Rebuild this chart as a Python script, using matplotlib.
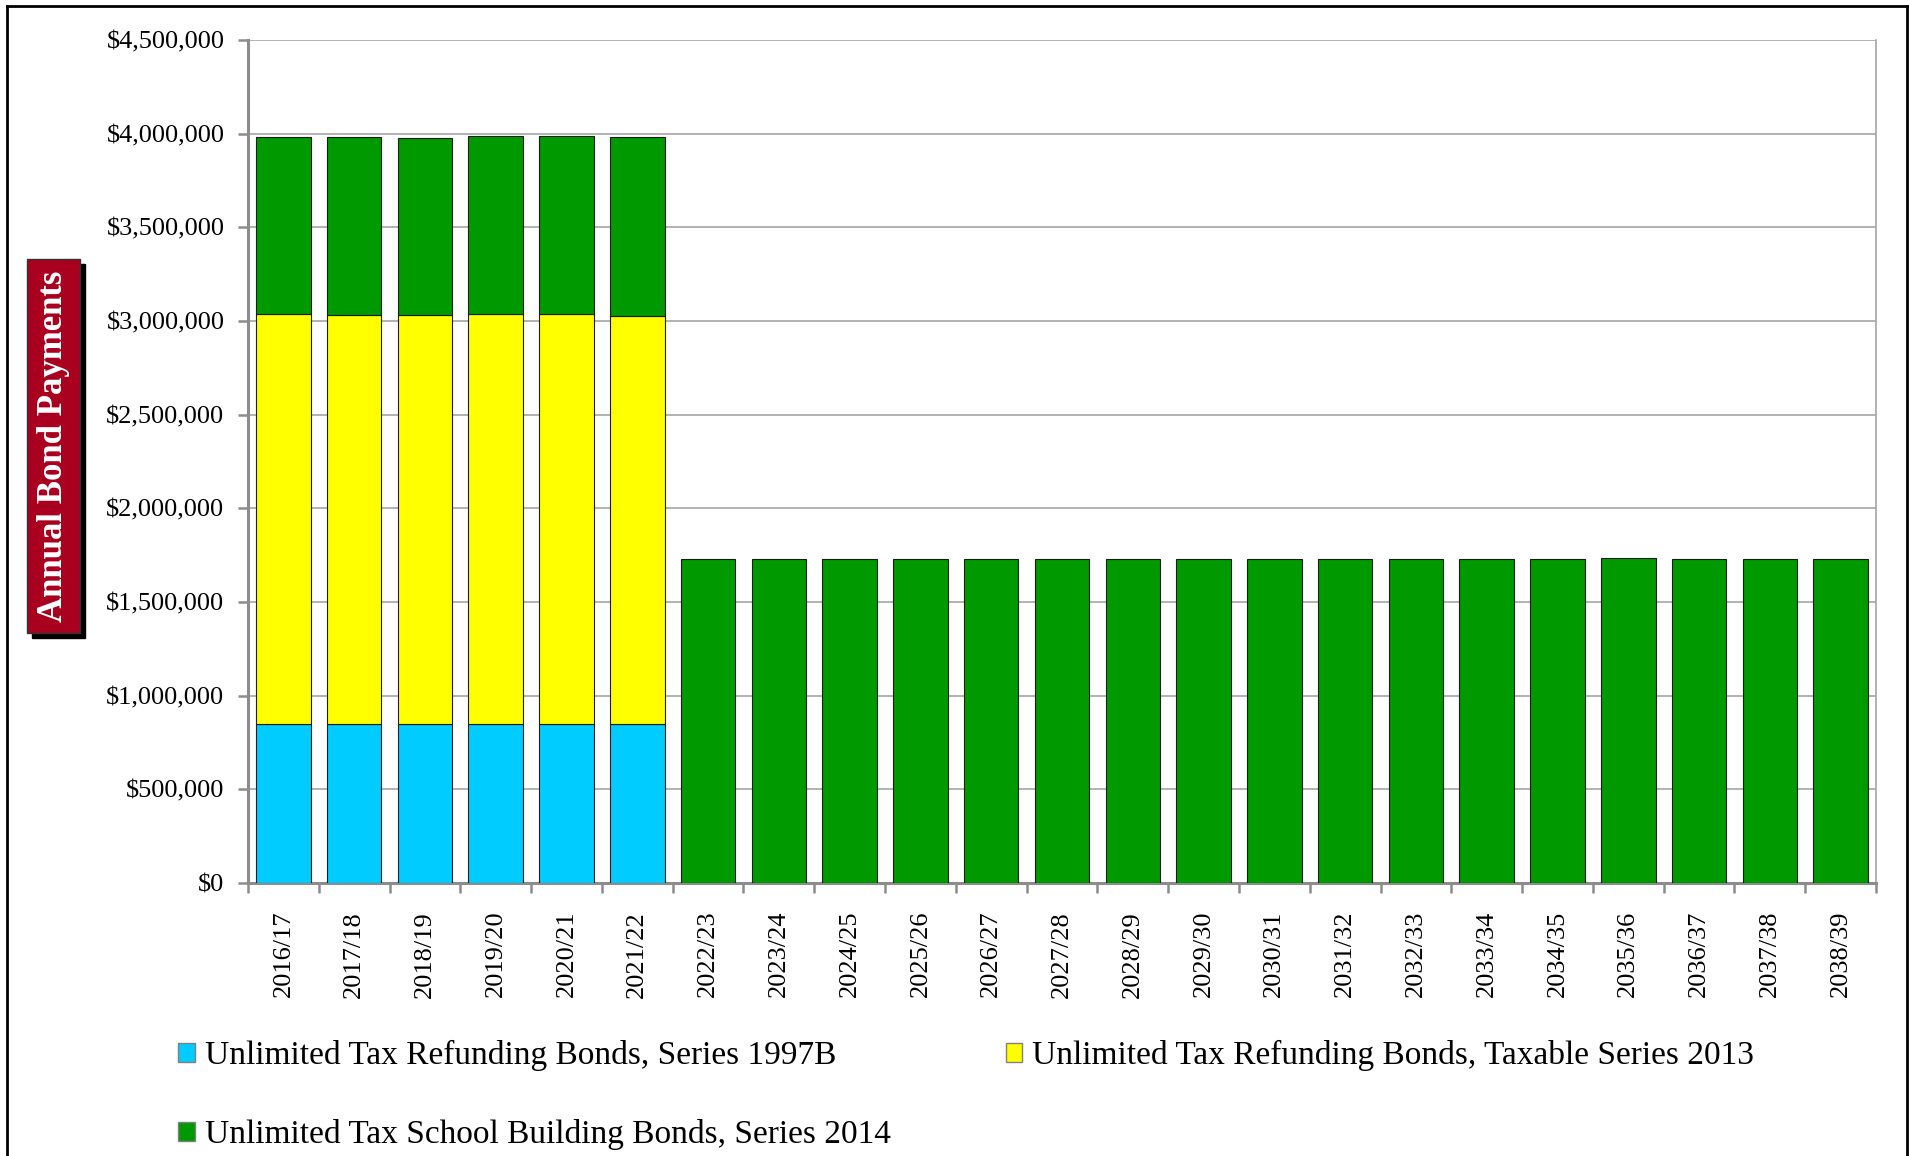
import matplotlib
matplotlib.use("Agg")
import matplotlib.pyplot as plt
from matplotlib.patches import Rectangle, Circle
from matplotlib.lines import Line2D
from matplotlib.ticker import FuncFormatter, MultipleLocator
import numpy as np

# annual payments per bond issue, fiscal years
years = ['2016/17', '2017/18', '2018/19', '2019/20', '2020/21', '2021/22',
         '2022/23', '2023/24', '2024/25', '2025/26', '2026/27', '2027/28',
         '2028/29', '2029/30', '2030/31', '2031/32', '2032/33', '2033/34',
         '2034/35', '2035/36', '2036/37', '2037/38', '2038/39']

series_1997b = [850000, 850000, 850000, 850000, 850000, 850000,
                0, 0, 0, 0, 0, 0, 0, 0, 0, 0, 0, 0, 0, 0, 0, 0, 0]
series_2013 = [2186000, 2184000, 2181000, 2187000, 2185000, 2179000,
               0, 0, 0, 0, 0, 0, 0, 0, 0, 0, 0, 0, 0, 0, 0, 0, 0]
series_2014 = [948000, 948000, 946000, 951000, 951000, 952000,
               1731000, 1727000, 1730000, 1730000, 1730000, 1730000,
               1732000, 1730000, 1730000, 1731000, 1730000, 1731000,
               1730000, 1734000, 1731000, 1730000, 1728000]

labels = ['Unlimited Tax Refunding Bonds, Series 1997B',
          'Unlimited Tax Refunding Bonds, Taxable Series 2013',
          'Unlimited Tax School Building Bonds, Series 2014']
colors = ['#00CCFF', '#FFFF00', '#009900']

plt.rcParams['font.family'] = ['Liberation Serif', 'DejaVu Serif']

W, H = 1909, 1156
fig = plt.figure(figsize=(W / 100, H / 100), dpi=100)
ax = fig.add_axes([248 / W, 1 - 883 / H, (1876 - 248) / W, (883 - 40) / H])

x = np.arange(len(years))
a = np.array(series_1997b)
b = np.array(series_2013)
c = np.array(series_2014)

bw = 0.77
bars_a = ax.bar(x, a, bw, color=colors[0], edgecolor='#1a1a1a', linewidth=0.8, zorder=3)
bars_b = ax.bar(x, b, bw, bottom=a, color=colors[1], edgecolor='#1a1a1a', linewidth=0.8, zorder=3)
bars_c = ax.bar(x, c, bw, bottom=a + b, color=colors[2], edgecolor='#1a1a1a', linewidth=0.8, zorder=3)
# hide the empty segments after 2021/22
for bar_set, vals in ((bars_a, a), (bars_b, b)):
	for rect, v in zip(bar_set, vals):
		if v == 0:
			rect.set_visible(False)

ax.set_xlim(-0.5, len(years) - 0.5)
ax.set_ylim(0, 4500000)
ax.yaxis.set_major_locator(MultipleLocator(500000))
ax.yaxis.set_major_formatter(FuncFormatter(lambda v, p: '${:,.0f}'.format(v)))
ax.grid(axis='y', color='#A6A6A6', linewidth=1.2, zorder=0)

ax.set_xticks(x)
ax.set_xticklabels(years, rotation=90, fontsize=19)
ax.set_xticks(np.arange(-0.5, len(years), 1.0), minor=True)
ax.tick_params(axis='x', which='major', length=0, pad=20)
ax.tick_params(axis='x', which='minor', length=7, width=1.8, color='#8C8C8C')
ax.tick_params(axis='y', length=7, width=1.8, color='#8C8C8C', labelsize=19, pad=10)

for side in ('left', 'bottom'):
	ax.spines[side].set_color('#8C8C8C')
	ax.spines[side].set_linewidth(2.2)
ax.spines['right'].set_color('#A6A6A6')
ax.spines['right'].set_linewidth(1.2)
ax.spines['top'].set_visible(False)

# y axis title in a red box with a drop shadow
bx, by, bwid, bht = 27, 259, 53, 374
fig.patches.append(Rectangle(((bx + 5) / W, 1 - (by + bht + 5) / H), bwid / W, bht / H,
                             transform=fig.transFigure, color='black', zorder=1))
fig.patches.append(Rectangle((bx / W, 1 - (by + bht) / H), bwid / W, bht / H,
                             transform=fig.transFigure, facecolor='#A8001E',
                             edgecolor='#333333', linewidth=1, zorder=2))
fig.text((bx + bwid / 2) / W, 1 - (by + bht / 2) / H, 'Annual Bond Payments',
         rotation=90, ha='center', va='center', color='white', fontsize=25,
         fontweight='bold', zorder=3)

# legend: blue and yellow on the first row, green below
handles = [Rectangle((0, 0), 1, 1, facecolor=col, edgecolor='#808080', linewidth=1)
           for col in colors]
fig.legend([handles[0], handles[2], handles[1]], [labels[0], labels[2], labels[1]],
           ncol=2, loc='upper left', bbox_to_anchor=(178 / W, 1 - 1040 / H),
           frameon=False, fontsize=24, handlelength=0.5, handleheight=0.5,
           handletextpad=0.3, columnspacing=3.45, labelspacing=1.45, borderpad=0,
           borderaxespad=0)

# page frame around the chart
frame = dict(color='black', linewidth=2, transform=fig.transFigure)
fig.lines.append(Line2D([7 / W, 7 / W], [0, 1 - 6 / H], **frame))
fig.lines.append(Line2D([7 / W, 1907 / W], [1 - 6 / H, 1 - 6 / H], **frame))
fig.lines.append(Line2D([1907 / W, 1907 / W], [0, 1 - 6 / H], **frame))

# corner of the page ornament at top right
fig.patches.append(Circle((1912 / W, 1170 / H), 20 / W, transform=fig.transFigure,
                          color='#1F4E8C', zorder=0))

fig.savefig('out.png', dpi=100)
